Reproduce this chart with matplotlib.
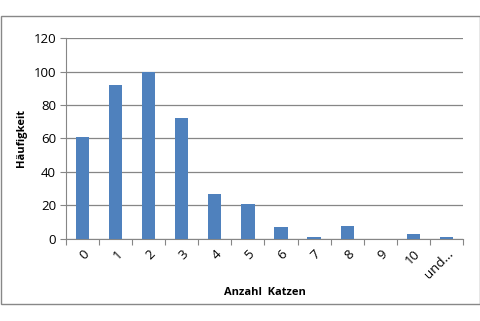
import matplotlib
matplotlib.use("Agg")
import matplotlib.pyplot as plt
from matplotlib.patches import Rectangle
import numpy as np

plt.rcParams['font.family'] = ['Open Sans', 'DejaVu Sans']

kategorien = ['0', '1', '2', '3', '4', '5', '6', '7', '8', '9', '10', 'und...']
haeufigkeit = [61, 92, 100, 72, 27, 21, 7, 1, 8, 0, 3, 1]

fig = plt.figure(figsize=(4.81, 3.21), dpi=100)
ax = fig.add_axes([0.137, 0.2555, 0.8256, 0.6261])

# grauer Rahmen um das Diagramm
fig.patches.append(Rectangle((0.5 / 481, 1 - 304 / 321), 479.5 / 481, 288 / 321,
                             transform=fig.transFigure, fill=False,
                             edgecolor='#888888', linewidth=1))

x = np.arange(len(kategorien))
ax.bar(x, haeufigkeit, width=0.4, color='#4f81bd', zorder=3)

ax.set_xlim(-0.5, len(kategorien) - 0.5)
ax.set_ylim(0, 120)
ax.set_yticks(range(0, 121, 20))
ax.set_yticklabels([str(v) for v in range(0, 121, 20)], fontsize=9.5)
ax.yaxis.grid(True, color='#868686', linewidth=0.9, zorder=0)

ax.set_xticks(np.arange(-0.5, len(kategorien), 1))
ax.set_xticklabels([])
ax.set_xticks(x, minor=True)
ax.set_xticklabels(kategorien, minor=True, rotation=45, fontsize=9.5,
                   ha='right', va='top', rotation_mode='anchor')
ax.tick_params(axis='x', which='minor', length=0, pad=6)
ax.tick_params(axis='x', which='major', length=4, color='#868686')
ax.tick_params(axis='y', length=4, color='#868686', pad=3)

for s in ['top', 'right']:
    ax.spines[s].set_visible(False)
for s in ['left', 'bottom']:
    ax.spines[s].set_color('#868686')

ax.set_xlabel('Anzahl  Katzen', fontsize=8, fontweight='bold', labelpad=4)
ax.set_ylabel('Häufigkeit', fontsize=8, fontweight='bold', labelpad=5)

fig.savefig('out.png', dpi=100)
